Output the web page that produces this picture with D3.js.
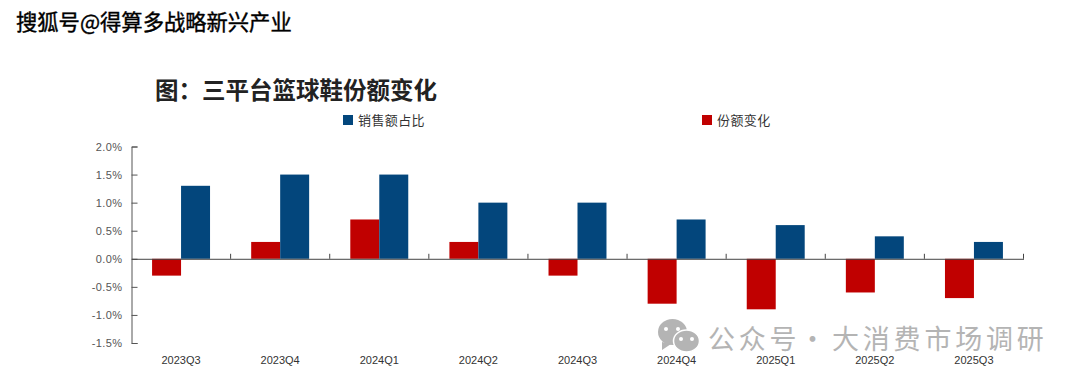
<!DOCTYPE html>
<html>
<head>
<meta charset="utf-8">
<script src="https://cdn.jsdelivr.net/npm/d3@7"></script>
<style>
  html, body { margin: 0; padding: 0; background: #fff; }
  svg { display: block; }
  text { font-family: "Liberation Sans", Arial, sans-serif; }
  .cjk { font-family: "Noto Sans CJK SC", sans-serif; }
</style>
</head>
<body>
<div id="vis"></div>
<script>
var categories = ["2023Q3", "2023Q4", "2024Q1", "2024Q2", "2024Q3", "2024Q4", "2025Q1", "2025Q2", "2025Q3"];
var seriesNames = ["份额变化", "销售额占比"];
var shareChange = [-0.3, 0.3, 0.7, 0.3, -0.3, -0.8, -0.9, -0.6, -0.7];
var salesShare = [1.3, 1.5, 1.5, 1.0, 1.0, 0.7, 0.6, 0.4, 0.3];
var yTicks = [-1.5, -1.0, -0.5, 0.0, 0.5, 1.0, 1.5, 2.0];

var colors = { "销售额占比": "#03467c", "份额变化": "#c00000" };
var width = 1080, height = 382;

var svg = d3.select("#vis").append("svg")
  .attr("width", width)
  .attr("height", height);

var x = d3.scaleBand().domain(categories).range([131.5, 1023.5]);
var x1 = d3.scaleBand().domain(seriesNames).range([0, x.bandwidth()])
  .paddingInner(0).paddingOuter(0.71);
var y = d3.scaleLinear().domain([-1.5, 2.0]).range([343, 146.5]);

// bars
seriesNames.forEach(function(name) {
  var values = name == "份额变化" ? shareChange : salesShare;
  svg.append("g").selectAll("rect")
    .data(values)
    .enter().append("rect")
    .attr("x", function(d, i) { return x(categories[i]) + x1(name); })
    .attr("width", x1.bandwidth())
    .attr("y", function(d) { return y(Math.max(d, 0)); })
    .attr("height", function(d) { return Math.abs(y(d) - y(0)); })
    .attr("fill", colors[name]);
});

// y axis, ticks point inward
var yAxis = d3.axisLeft(y)
  .tickValues(yTicks)
  .tickSizeInner(-6)
  .tickSizeOuter(-6)
  .tickPadding(9)
  .tickFormat(function(d) { return d.toFixed(1) + "%"; });

var gy = svg.append("g")
  .attr("transform", "translate(131.5,0)")
  .call(yAxis);
gy.selectAll("path, line").attr("stroke", "#555").attr("stroke-width", 1);
gy.selectAll("text")
  .attr("fill", "#555")
  .style("font-size", "11px")
  .style("letter-spacing", "0.4px");

// x axis, labels sit low at the bottom of the plot
var xAxis = d3.axisBottom(x).tickSize(0).tickPadding(97);
var gx = svg.append("g")
  .attr("transform", "translate(0," + y(0) + ")")
  .call(xAxis);
gx.select("path").attr("stroke", "#444").attr("stroke-width", 1);
gx.selectAll("text")
  .attr("fill", "#333")
  .style("font-size", "11px");

// separators between the categories
svg.append("g").selectAll("line")
  .data(categories.slice(1).concat(["end"]))
  .enter().append("line")
  .attr("x1", function(d, i) { return x.range()[0] + x.step() * (i + 1); })
  .attr("x2", function(d, i) { return x.range()[0] + x.step() * (i + 1); })
  .attr("y1", y(0))
  .attr("y2", y(0) - 5)
  .attr("stroke", "#444");

// title, the colon has to be the full width one
svg.append("text")
  .attr("class", "cjk")
  .attr("x", 155)
  .attr("y", 99)
  .style("font-size", "23.5px")
  .style("font-weight", "700")
  .attr("fill", "#222")
  .text("图\uFF1A三平台篮球鞋份额变化");

// legend
var legendX = { "销售额占比": 343, "份额变化": 702 };
["销售额占比", "份额变化"].forEach(function(name) {
  svg.append("rect")
    .attr("x", legendX[name])
    .attr("y", 115)
    .attr("width", 10)
    .attr("height", 10)
    .attr("fill", colors[name]);
  svg.append("text")
    .attr("class", "cjk")
    .attr("x", legendX[name] + 15)
    .attr("y", 125)
    .style("font-size", "13px")
    .style("letter-spacing", "0.4px")
    .attr("fill", "#333")
    .text(name);
});

// source line at the top
svg.append("text")
  .attr("class", "cjk")
  .attr("x", 16)
  .attr("y", 30)
  .style("font-size", "21.3px")
  .attr("fill", "#000")
  .attr("stroke", "#000")
  .attr("stroke-width", 0.4)
  .text("搜狐号@得算多战略新兴产业");

// wechat mark and account name
var mark = svg.append("g").attr("fill", "#b4b4b4");
mark.append("ellipse").attr("cx", 672.5).attr("cy", 332).attr("rx", 14.5).attr("ry", 13);
mark.append("path").attr("d", "M662 342 L662 350 L671 344 Z");
mark.append("ellipse").attr("cx", 686.5).attr("cy", 341).attr("rx", 13).attr("ry", 11)
  .attr("stroke", "#fff").attr("stroke-width", 1.5);
[[666, 329], [678, 329], [681, 339], [692, 339]].forEach(function(p) {
  mark.append("circle").attr("cx", p[0]).attr("cy", p[1]).attr("r", 2).attr("fill", "#fff");
});

[["公众号", 708], ["·", 799], ["大消费市场调研", 832]].forEach(function(part) {
  svg.append("text")
    .attr("class", "cjk")
    .attr("x", part[1])
    .attr("y", 348.5)
    .style("font-size", "27px")
    .style("letter-spacing", "3.8px")
    .attr("fill", "#b4b4b4")
    .text(part[0]);
});
</script>
</body>
</html>
